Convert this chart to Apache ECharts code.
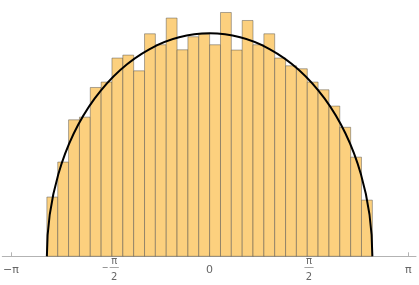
<!DOCTYPE html>
<html>
<head>
<meta charset="utf-8">
<script src="https://cdn.jsdelivr.net/npm/echarts@6/dist/echarts.min.js"></script>
<style>
  html, body { margin: 0; padding: 0; background: #ffffff; }
  #chart { width: 419px; height: 285px; }
</style>
</head>
<body>
<div id="chart"></div>
<script>
// Histogram bin edges (31 edges -> 30 bins)
const binEdges = [
  -2.573, -2.401, -2.230, -2.058, -1.887, -1.715, -1.544, -1.372, -1.201, -1.029,
  -0.858, -0.686, -0.515, -0.343, -0.172, 0.000, 0.172, 0.343, 0.515, 0.686,
  0.858, 1.029, 1.201, 1.372, 1.544, 1.715, 1.887, 2.058, 2.230, 2.401, 2.573
];
// Bin heights (PDF density)
const binHeights = [
  0.0659, 0.1048, 0.1518, 0.1548, 0.1878, 0.1938, 0.2205, 0.2238, 0.2063, 0.2475,
  0.2353, 0.2650, 0.2297, 0.2442, 0.2472, 0.2353, 0.2712, 0.2294, 0.2623, 0.2353,
  0.2475, 0.2205, 0.2119, 0.2086, 0.1938, 0.1852, 0.1671, 0.1435, 0.1103, 0.0625
];
// Semicircle curve: radius and peak height
const curveRadius = 2.573;
const curvePeak = 0.2480;
// Axis ticks
const tickValues = [-Math.PI, -Math.PI / 2, 0, Math.PI / 2, Math.PI];
const tickLabels = ['−π', '−π/2', '0', 'π/2', 'π'];

const barData = binHeights.map((h, i) => [binEdges[i], binEdges[i + 1], h]);

function labelFor(v) {
  const i = tickValues.findIndex(t => Math.abs(t - v) < 1e-6);
  if (i < 0) return '';
  const s = tickLabels[i];
  const m = s.match(/^(−?)(.+)\/(.+)$/);
  if (!m) return '{single|' + s + '}';
  const neg = m[1] !== '';
  if (neg) {
    return '{sp| }{num|' + m[2] + '}\n{mi|−}{bar|──}\n{sp2| }{den|' + m[3] + '}';
  }
  return '{num|' + m[2] + '}\n{bar|──}\n{den|' + m[3] + '}';
}

const labelColor = '#666666';
const chart = echarts.init(document.getElementById('chart'), null, { renderer: 'canvas' });
chart.setOption({
  animation: false,
  backgroundColor: '#ffffff',
  grid: { left: 0, right: 3, top: 0, bottom: 28.7 },
  xAxis: {
    type: 'value',
    min: -3.278,
    max: 3.263,
    splitLine: { show: false },
    axisLine: { show: true, onZero: false, lineStyle: { color: '#b3b3b3', width: 1 } },
    axisTick: {
      show: true, inside: true, length: 4,
      customValues: tickValues,
      lineStyle: { color: '#b3b3b3', width: 1 }
    },
    axisLabel: {
      show: true,
      margin: 0,
      customValues: tickValues,
      formatter: labelFor,
      color: labelColor,
      fontFamily: 'DejaVu Sans',
      fontSize: 11,
      rich: {
        single: { fontSize: 11, lineHeight: 28, color: labelColor, fontFamily: 'DejaVu Sans' },
        num: { fontSize: 10, lineHeight: 10, width: 9, align: 'center', color: labelColor, fontFamily: 'DejaVu Sans' },
        bar: { fontSize: 7.5, lineHeight: 4, width: 9, align: 'center', color: '#777777', fontFamily: 'DejaVu Sans' },
        den: { fontSize: 10, lineHeight: 14, width: 9, align: 'center', color: labelColor, fontFamily: 'DejaVu Sans' },
        sp: { width: 8, lineHeight: 10, fontSize: 10 },
        sp2: { width: 8, lineHeight: 14, fontSize: 10 },
        mi: { width: 8, lineHeight: 4, fontSize: 8, align: 'left', color: labelColor, fontFamily: 'DejaVu Sans' }
      }
    }
  },
  yAxis: {
    type: 'value',
    min: 0,
    max: 0.2851,
    show: false,
    splitLine: { show: false }
  },
  series: [
    {
      type: 'custom',
      data: barData,
      encode: { x: [0, 1], y: 2 },
      renderItem: function (params, api) {
        const a = api.coord([api.value(0), api.value(2)]);
        const b = api.coord([api.value(1), 0]);
        return {
          type: 'rect',
          shape: { x: a[0], y: a[1], width: b[0] - a[0], height: b[1] - a[1] },
          style: { fill: '#fcd07e', stroke: 'rgba(70,70,70,0.45)', lineWidth: 1 }
        };
      },
      z: 2
    },
    {
      type: 'custom',
      data: [[curveRadius, curvePeak]],
      encode: { x: 0, y: 1 },
      renderItem: function (params, api) {
        const r = api.value(0), pk = api.value(1);
        const p0 = api.coord([-r, 0]);
        const p1 = api.coord([r, 0]);
        const top = api.coord([0, pk]);
        const rx = (p1[0] - p0[0]) / 2;
        const ry = p0[1] - top[1];
        const d = 'M ' + p0[0] + ' ' + p0[1] + ' A ' + rx + ' ' + ry + ' 0 0 1 ' + p1[0] + ' ' + p1[1];
        return {
          type: 'path',
          shape: { pathData: d },
          style: { fill: null, stroke: '#000000', lineWidth: 2 }
        };
      },
      z: 3
    }
  ]
});
</script>
</body>
</html>
